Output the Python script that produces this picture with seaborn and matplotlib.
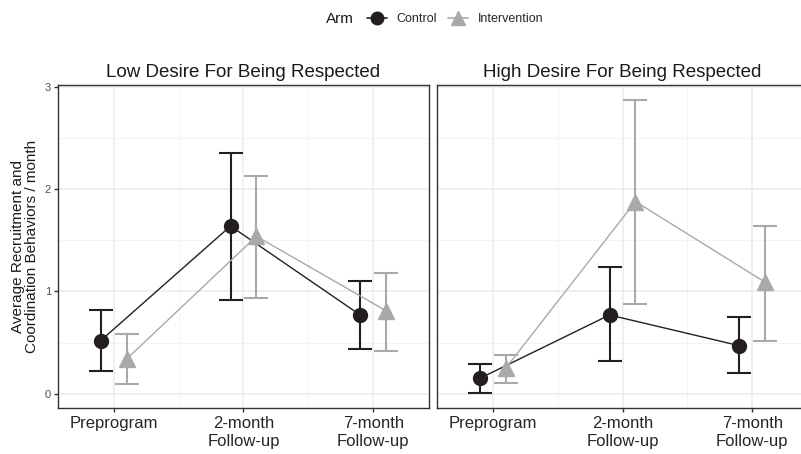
import matplotlib
matplotlib.use("Agg")
import matplotlib.pyplot as plt
import numpy as np
import pandas as pd
import seaborn as sns
from matplotlib.lines import Line2D
from matplotlib.offsetbox import HPacker

# chart values
timepoints = ["Preprogram", "2-month\nFollow-up", "7-month\nFollow-up"]
panels = ["Low Desire For Being Respected", "High Desire For Being Respected"]
arms = ["Control", "Intervention"]

low_control = [0.52, 1.64, 0.77]
low_control_lo = [0.22, 0.92, 0.44]
low_control_hi = [0.82, 2.35, 1.10]
low_interv = [0.34, 1.54, 0.81]
low_interv_lo = [0.09, 0.94, 0.42]
low_interv_hi = [0.58, 2.13, 1.18]

high_control = [0.15, 0.77, 0.47]
high_control_lo = [0.01, 0.32, 0.20]
high_control_hi = [0.29, 1.24, 0.75]
high_interv = [0.25, 1.88, 1.09]
high_interv_lo = [0.10, 0.88, 0.52]
high_interv_hi = [0.38, 2.87, 1.64]

COLORS = {"Control": "#231F20", "Intervention": "#A9A9AB"}
MARKERS = {"Control": "o", "Intervention": "^"}
MSIZE = {"Control": 10, "Intervention": 11}
DODGE = {"Control": -0.1, "Intervention": 0.1}


def _frame() -> pd.DataFrame:
    rows = []
    series = {
        (panels[0], "Control"): (low_control, low_control_lo, low_control_hi),
        (panels[0], "Intervention"): (low_interv, low_interv_lo, low_interv_hi),
        (panels[1], "Control"): (high_control, high_control_lo, high_control_hi),
        (panels[1], "Intervention"): (high_interv, high_interv_lo, high_interv_hi),
    }
    for (panel, arm), (mean, lo, hi) in series.items():
        for i, t in enumerate(timepoints):
            rows.append({"panel": panel, "arm": arm, "time": t, "pos": i + DODGE[arm],
                         "mean": mean[i], "lo": lo[i], "hi": hi[i]})
    return pd.DataFrame(rows)


df = _frame()

sns.set_theme(style="white")
plt.rcParams["font.family"] = ["Liberation Sans", "DejaVu Sans"]

W, H = 801, 454
fig = plt.figure(figsize=(W / 100, H / 100), dpi=100)
pw = 371 / W
ph = (408 - 85) / H
bottom = (H - 408) / H
axes = [fig.add_axes([58 / W, bottom, pw, ph]), fig.add_axes([437 / W, bottom, pw, ph])]

for ax, panel in zip(axes, panels):
    sub = df[df["panel"] == panel]
    # minor + major grid, theme_bw style
    for y in [0.5, 1.5, 2.5]:
        ax.axhline(y, color="#F2F2F2", lw=0.6, zorder=0)
    for x in [0.5, 1.5]:
        ax.axvline(x, color="#F2F2F2", lw=0.6, zorder=0)
    for y in [0, 1, 2, 3]:
        ax.axhline(y, color="#EBEBEB", lw=1.1, zorder=0)
    for x in [0, 1, 2]:
        ax.axvline(x, color="#EBEBEB", lw=1.1, zorder=0)

    for arm in arms:
        d = sub[sub["arm"] == arm]
        ax.errorbar(d["pos"], d["mean"], yerr=[d["mean"] - d["lo"], d["hi"] - d["mean"]],
                    fmt="none", ecolor=COLORS[arm], elinewidth=1.5, capsize=8.6, capthick=1.5, zorder=2)
    sns.lineplot(data=sub, x="pos", y="mean", hue="arm", palette=COLORS,
                 lw=1.0, legend=False, ax=ax, zorder=3)
    for arm in arms:
        d = sub[sub["arm"] == arm]
        ax.plot(d["pos"], d["mean"], ls="none", marker=MARKERS[arm], ms=MSIZE[arm],
                color=COLORS[arm], mec=COLORS[arm], zorder=4)

    ax.set_xlim(-0.43, 2.43)
    ax.set_ylim(-0.14, 3.02)
    ax.set_xticks(range(len(timepoints)))
    ax.set_xticklabels(timepoints, fontsize=12, color="#262626", linespacing=1.25)
    ax.set_yticks([0, 1, 2, 3])
    ax.set_yticklabels(["0", "1", "2", "3"], fontsize=8, color="#4D4D4D")
    ax.set_xlabel("")
    ax.set_ylabel("")
    ax.set_title(panel, fontsize=13.5, color="#1A1A1A", pad=6)
    for s in ax.spines.values():
        s.set_color("#333333")
        s.set_linewidth(1.0)
    ax.tick_params(axis="both", length=3, width=1, color="#333333", pad=2, direction="out",
                   bottom=True, left=True)
    ax.tick_params(axis="x", pad=3)

axes[1].tick_params(axis="y", left=False, labelleft=False)
axes[0].set_ylabel("Average Recruitment and\nCoordination Behaviors / month", fontsize=11,
                   color="#1A1A1A", labelpad=4, linespacing=1.0)

handles = [Line2D([], [], color=COLORS[a], marker=MARKERS[a], ms=MSIZE[a] - 1, lw=1.2) for a in arms]
leg = fig.legend(handles, arms, loc="center", bbox_to_anchor=(435 / W, 1 - 19 / H), ncol=2,
                 frameon=False, fontsize=9, title="Arm", title_fontsize=11, handlelength=1.6,
                 handletextpad=0.8, columnspacing=0.9)
leg.get_title().set_color("#1A1A1A")
# put the legend title to the left of the keys, like ggplot's top legend
box = leg._legend_box
box._children = [HPacker(children=list(box.get_children()), align="center", pad=0, sep=9)]

fig.savefig("out.png", dpi=100)
